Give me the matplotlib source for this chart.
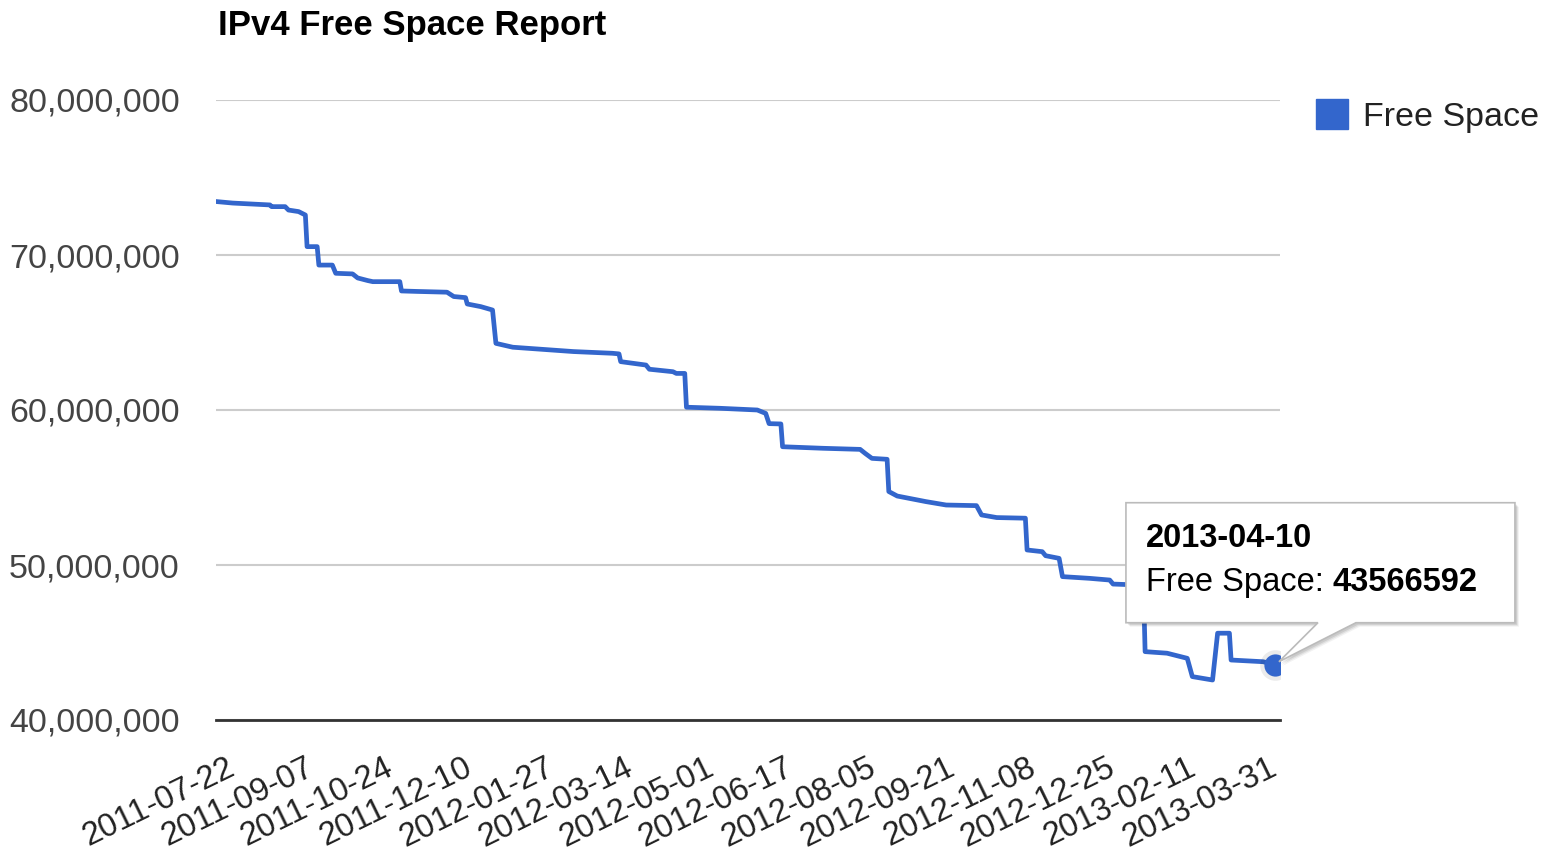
import matplotlib
matplotlib.use("Agg")
import matplotlib.pyplot as plt
import matplotlib.dates as mdates
import matplotlib.transforms as mtransforms
from matplotlib.patches import Polygon, Patch
from matplotlib.ticker import FuncFormatter
import pandas as pd

# step points (date, free addresses)
dates = [
    "2011-07-22", "2011-08-01", "2011-08-23", "2011-08-24", "2011-09-01",
    "2011-09-03", "2011-09-09", "2011-09-13", "2011-09-14", "2011-09-20",
    "2011-09-21", "2011-09-29", "2011-10-01", "2011-10-11", "2011-10-14",
    "2011-10-20", "2011-10-23", "2011-11-08", "2011-11-09", "2011-11-18",
    "2011-12-06", "2011-12-10", "2011-12-17", "2011-12-18", "2011-12-26",
    "2012-01-02", "2012-01-04", "2012-01-14", "2012-02-19", "2012-03-13",
    "2012-03-17", "2012-03-18", "2012-04-02", "2012-04-04", "2012-04-18",
    "2012-04-20", "2012-04-25", "2012-04-26", "2012-05-16", "2012-06-07",
    "2012-06-12", "2012-06-14", "2012-06-21", "2012-06-22", "2012-07-16",
    "2012-08-07", "2012-08-10", "2012-08-14", "2012-08-23", "2012-08-24",
    "2012-08-29", "2012-09-15", "2012-09-27", "2012-10-15", "2012-10-18",
    "2012-10-27", "2012-11-13", "2012-11-14", "2012-11-23", "2012-11-25",
    "2012-12-03", "2012-12-05", "2012-12-21", "2013-01-02", "2013-01-04",
    "2013-01-22", "2013-01-23", "2013-02-05", "2013-02-17", "2013-02-20",
    "2013-03-04", "2013-03-07", "2013-03-14", "2013-03-15", "2013-04-03",
    "2013-04-10",
]
free_space = [
    73450000, 73350000, 73230000, 73120000, 73120000,
    72900000, 72800000, 72580000, 70540000, 70540000,
    69350000, 69350000, 68820000, 68780000, 68520000,
    68350000, 68280000, 68280000, 67680000, 67650000,
    67600000, 67320000, 67250000, 66840000, 66670000,
    66450000, 64300000, 64050000, 63770000, 63660000,
    63620000, 63120000, 62900000, 62630000, 62470000,
    62360000, 62360000, 60180000, 60110000, 60000000,
    59780000, 59120000, 59100000, 57630000, 57530000,
    57460000, 57200000, 56880000, 56820000, 54740000,
    54450000, 54090000, 53870000, 53830000, 53230000,
    53060000, 53020000, 50970000, 50860000, 50600000,
    50430000, 49250000, 49140000, 49030000, 48770000,
    48700000, 44410000, 44310000, 43980000, 42800000,
    42580000, 45600000, 45600000, 43870000, 43760000,
    43566592,
]
tick_dates = [
    "2011-07-22", "2011-09-07", "2011-10-24", "2011-12-10", "2012-01-27",
    "2012-03-14", "2012-05-01", "2012-06-17", "2012-08-05", "2012-09-21",
    "2012-11-08", "2012-12-25", "2013-02-11", "2013-03-31",
]
y_ticks = [40000000, 50000000, 60000000, 70000000, 80000000]
series_name = "Free Space"
title = "IPv4 Free Space Report"

BLUE = "#3366cc"
W, H = 1550, 856
plt.rcParams['font.family'] = ['Liberation Sans', 'DejaVu Sans']

fig = plt.figure(figsize=(W / 100, H / 100), dpi=100)
ax = fig.add_axes([216 / W, 1 - 720 / H, (1280 - 216) / W, (720 - 100) / H])

x = pd.to_datetime(dates)
ax.plot(x, free_space, color=BLUE, lw=3.4, solid_joinstyle='round', zorder=3)
# highlighted last point
ax.plot(x[-1:], free_space[-1:], 'o', ms=22, color='black', alpha=0.08, zorder=3, mew=0)
ax.plot(x[-1:], free_space[-1:], 'o', ms=16, color=BLUE, zorder=4, mew=0)

ax.set_ylim(y_ticks[0], y_ticks[-1])
ax.set_xlim(x[0], x[-1] + pd.Timedelta(days=3))

for s in ax.spines.values():
    s.set_visible(False)
ax.set_yticks(y_ticks)
ax.yaxis.set_major_formatter(FuncFormatter(lambda v, p: f"{v:,.0f}"))
ax.grid(axis='y', color='#cccccc', lw=1.5, zorder=1)
ax.axhline(y_ticks[0], color='#333333', lw=2, zorder=2, clip_on=False)
ax.tick_params(axis='y', length=0, pad=26, labelsize=24.5, labelcolor='#444444')

ax.set_xticks(pd.to_datetime(tick_dates))
ax.set_xticklabels(tick_dates)
ax.tick_params(axis='x', length=0, pad=23, labelsize=23.5, labelcolor='#222222')
shift = mtransforms.ScaledTranslation(10 / 100, 0, fig.dpi_scale_trans)
for lab in ax.get_xticklabels():
    lab.set_rotation(26)
    lab.set_ha('right')
    lab.set_va('top')
    lab.set_rotation_mode('anchor')
    lab.set_transform(lab.get_transform() + shift)

fig.text(218 / W, 1 - 26 / H, title, fontsize=25, weight='bold', va='center', ha='left')

ax.legend(handles=[Patch(facecolor=BLUE, edgecolor=BLUE)], labels=[series_name],
          loc='center left', bbox_to_anchor=(1316 / W, 1 - 116 / H),
          bbox_transform=fig.transFigure, frameon=False, fontsize=24.5,
          handlelength=32 / 34, handleheight=32 / 34, handletextpad=15 / 34,
          borderpad=0, borderaxespad=0, labelcolor='#222222')

# tooltip on the last point
ident = mtransforms.IdentityTransform()
px, py = ax.transData.transform((mdates.date2num(x[-1]), free_space[-1]))
box = [(px - 149, py + 162), (px + 240, py + 162), (px + 240, py + 42),
       (px + 81, py + 42), (px + 4, py + 3), (px + 43, py + 42), (px - 149, py + 42)]
for k, a in [(4, 0.05), (3, 0.07), (2, 0.09)]:
    fig.add_artist(Polygon([(u + k, v - k) for u, v in box], closed=True,
                           facecolor='black', edgecolor='none', alpha=a,
                           transform=ident, zorder=5))
fig.add_artist(Polygon(box, closed=True, facecolor='white', edgecolor='#bbbbbb',
                       lw=1.2, transform=ident, zorder=6))
fig.text(px - 129, py + 126, dates[-1], fontsize=23.5, weight='bold', va='center',
         ha='left', transform=ident, zorder=7)
t = fig.text(px - 129, py + 82, series_name + ": ", fontsize=23.5, va='center',
             ha='left', transform=ident, zorder=7)
r = fig.canvas.get_renderer()
fig.text(t.get_window_extent(r).x1, py + 82, str(free_space[-1]), fontsize=23.5,
         weight='bold', va='center', ha='left', transform=ident, zorder=7)

fig.savefig("out.png", dpi=100)
